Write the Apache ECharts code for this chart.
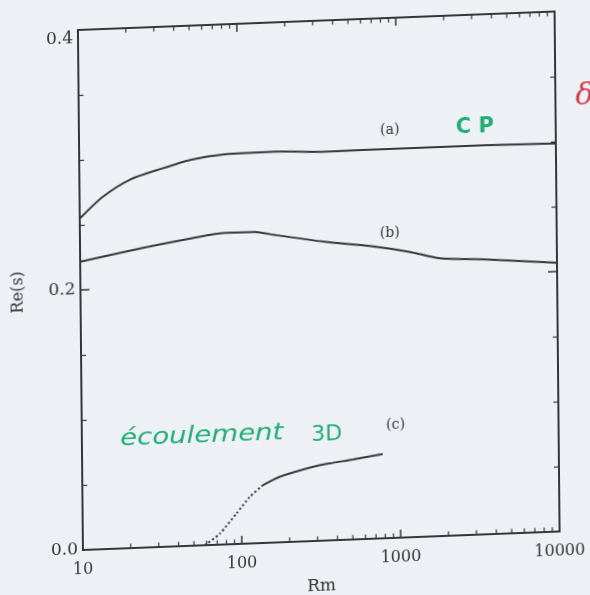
<!DOCTYPE html>
<html>
<head>
<meta charset="utf-8">
<script src="https://cdn.jsdelivr.net/npm/echarts@6/dist/echarts.min.js"></script>
<style>
  html, body { margin: 0; padding: 0; width: 590px; height: 595px; overflow: hidden; background: #edf0f5; }
  #chart { position: absolute; left: 0; top: 0; width: 600px; height: 620px;
           transform-origin: 78px 30px; transform: matrix(1, -0.0388, 0.0096, 1, 0, 0); }
</style>
</head>
<body>
<div id="chart"></div>
<script>
// ---- data ----
const rmA = [10, 14, 21, 31, 51, 82, 170, 350, 1090, 3650, 10000];
const reA = [0.255, 0.271, 0.2836, 0.290, 0.297, 0.300, 0.3005, 0.299, 0.2993, 0.2993, 0.2985];

const rmB = [10, 24, 50, 82, 126, 168, 347, 665, 1185, 1830, 3590, 10000];
const reB = [0.2217, 0.2302, 0.2364, 0.2397, 0.2395, 0.2365, 0.2298, 0.2252, 0.2195, 0.2136, 0.2114, 0.2067];

const rmCdot = [58.5, 73, 93, 113, 137];
const reCdot = [0, 0.0086, 0.0235, 0.0358, 0.0445];
const rmCsol = [137, 175, 284, 361, 507, 780];
const reCsol = [0.0445, 0.0504, 0.0571, 0.0592, 0.0615, 0.0648];

const xTickValues = [10, 100, 1000, 10000];
const xTickLabels = ['10', '100', '1000', '10000'];
const xMinorTicks = [20, 30, 40, 50, 60, 70, 80, 90,
                     200, 300, 400, 500, 600, 700, 800, 900,
                     2000, 3000, 4000, 5000, 6000, 7000, 8000, 9000];
const yTickValues = [0, 0.2, 0.4];
const yTickLabels = ['0.0', '0.2', '0.4'];

const xName = 'Rm';
const yName = 'Re(s)';

function pairs(xs, ys) { return xs.map((x, i) => [x, ys[i]]); }

const ink = '#363636';
const serif = '"DejaVu Serif", "Liberation Serif", serif';

const chart = echarts.init(document.getElementById('chart'), null, { renderer: 'canvas' });

const xLabelFmt = v => {
  const i = xTickValues.findIndex(t => Math.abs(Math.log10(t) - Math.log10(v)) < 1e-6);
  return i >= 0 ? xTickLabels[i] : '';
};
const yLabelFmt = v => {
  const i = yTickValues.findIndex(t => Math.abs(t - v) < 1e-6);
  return i >= 0 ? yTickLabels[i] : '';
};

const baseX = {
  type: 'log', logBase: 10, min: 10, max: 10000,
  axisLine: { show: true, onZero: false, lineStyle: { color: ink, width: 2 } },
  axisTick: { show: true, inside: true, length: 8, lineStyle: { color: ink, width: 1.5 } },
  minorTick: { show: false },
  splitLine: { show: false },
  minorSplitLine: { show: false }
};
const baseY = {
  type: 'value', min: 0, max: 0.4, interval: 0.2,
  axisLine: { show: true, onZero: false, lineStyle: { color: ink, width: 2 } },
  axisTick: { show: true, inside: true, length: 9, lineStyle: { color: ink, width: 1.5 } },
  minorTick: { show: true, splitNumber: 4, length: 5, lineStyle: { color: ink, width: 1.2 } },
  splitLine: { show: false },
  minorSplitLine: { show: false }
};

const green = '#1fad74';

chart.setOption({
  backgroundColor: '#edf0f5',
  animation: false,
  grid: { left: 78, top: 30, width: 477, height: 520, containLabel: false },
  xAxis: [
    Object.assign({}, baseX, {
      position: 'bottom',
      name: xName, nameLocation: 'middle', nameGap: 37,
      nameTextStyle: { fontFamily: serif, fontSize: 17, color: '#333' },
      axisLabel: { show: true, margin: 12, fontFamily: serif, fontSize: 16, color: '#333', formatter: xLabelFmt }
    }),
    Object.assign({}, baseX, { position: 'top', axisLabel: { show: false } })
  ],
  yAxis: [
    Object.assign({}, baseY, {
      position: 'left',
      name: yName, nameLocation: 'middle', nameGap: 54, nameRotate: 90,
      nameTextStyle: { fontFamily: serif, fontSize: 16, color: '#333' },
      axisLabel: { show: true, margin: 5, fontFamily: serif, fontSize: 17, color: '#333',
                   formatter: yLabelFmt, verticalAlignMaxLabel: 'top' }
    }),
    Object.assign({}, baseY, { position: 'right', axisLabel: { show: false } })
  ],
  series: [
    { name: '(a)', type: 'line', xAxisIndex: 0, yAxisIndex: 0, data: pairs(rmA, reA),
      smooth: 0.25, showSymbol: false, lineStyle: { color: ink, width: 2 } },
    { name: '(b)', type: 'line', xAxisIndex: 0, yAxisIndex: 0, data: pairs(rmB, reB),
      smooth: 0.25, showSymbol: false, lineStyle: { color: ink, width: 2 } },
    { name: '(c) dotted', type: 'line', xAxisIndex: 0, yAxisIndex: 0, data: pairs(rmCdot, reCdot),
      smooth: 0.2, showSymbol: false, lineStyle: { color: ink, width: 2, type: [2, 2.5] } },
    { name: '(c)', type: 'line', xAxisIndex: 0, yAxisIndex: 0, data: pairs(rmCsol, reCsol),
      smooth: 0.25, showSymbol: false, lineStyle: { color: ink, width: 2 } },
    { name: 'minor ticks', type: 'custom', xAxisIndex: 0, yAxisIndex: 0, silent: true, clip: false,
      data: xMinorTicks.map(v => [v, 0]),
      renderItem: function (params, api) {
        const v = api.value(0);
        const pb = api.coord([v, 0]);
        const pt = api.coord([v, 0.4]);
        const st = { stroke: ink, lineWidth: 1.2 };
        return { type: 'group', children: [
          { type: 'line', shape: { x1: pb[0], y1: pb[1], x2: pb[0], y2: pb[1] - 4.5 }, style: st },
          { type: 'line', shape: { x1: pt[0], y1: pt[1], x2: pt[0], y2: pt[1] + 4.5 }, style: st }
        ] };
      }
    }
  ],
  graphic: [
    { type: 'text', x: 389, y: 142, style: { text: '(a)', font: '14px ' + serif, fill: '#333', textAlign: 'center', textVerticalAlign: 'middle' } },
    { type: 'text', x: 388, y: 245, style: { text: '(b)', font: '14px ' + serif, fill: '#333', textAlign: 'center', textVerticalAlign: 'middle' } },
    { type: 'text', x: 392, y: 437, style: { text: '(c)', font: '14px ' + serif, fill: '#333', textAlign: 'center', textVerticalAlign: 'middle' } },
    { type: 'text', x: 474, y: 143, style: { text: 'C P', font: 'bold 21px "DejaVu Sans", sans-serif', fill: green, textAlign: 'center', textVerticalAlign: 'middle' } },
    { type: 'text', x: 198, y: 441, scaleX: 1.2, style: { text: 'écoulement', font: 'italic 23px "DejaVu Sans", sans-serif', fill: green, textAlign: 'center', textVerticalAlign: 'middle' } },
    { type: 'text', x: 323, y: 444, style: { text: '3D', font: '22px "DejaVu Sans", sans-serif', fill: green, textAlign: 'center', textVerticalAlign: 'middle' } },
    { type: 'text', x: 584, y: 116, style: { text: 'δ', font: 'italic 30px "DejaVu Serif", serif', fill: '#d23a4a', textAlign: 'center', textVerticalAlign: 'middle' } }
  ]
});
</script>
</body>
</html>
